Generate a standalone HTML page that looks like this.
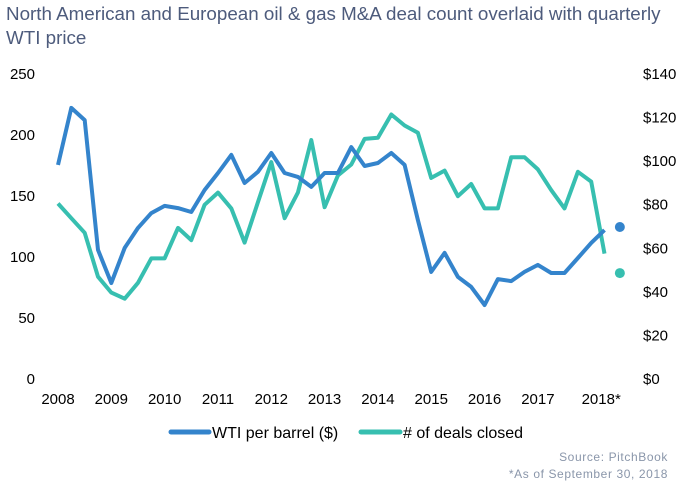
<!DOCTYPE html>
<html><head><meta charset="utf-8"><style>
body{margin:0;background:#fff;width:689px;height:483px;overflow:hidden;font-family:"Liberation Sans",sans-serif}
svg{display:block}
</style></head><body>
<svg id="c" width="689" height="483">
<text x="6" y="20" font-size="18.8" fill="#4d5b7c">North American and European oil &amp; gas M&amp;A deal count overlaid with quarterly</text>
<text x="6" y="44" font-size="18.8" fill="#4d5b7c">WTI price</text>
<g id="axes"></g><g id="series"></g>
<g>
<line x1="171" y1="432" x2="209" y2="432" stroke="#3484cc" stroke-width="5" stroke-linecap="round"/>
<text x="212" y="438" font-size="16" fill="#000">WTI per barrel ($)</text>
<line x1="361" y1="432" x2="400" y2="432" stroke="#37bfb0" stroke-width="5" stroke-linecap="round"/>
<text x="403" y="438" font-size="16" fill="#000"># of deals closed</text>
</g>
<text x="668" y="461" font-size="12" letter-spacing="0.6" fill="#8a96aa" text-anchor="end">Source: PitchBook</text>
<text x="668" y="478" font-size="12" letter-spacing="0.6" fill="#8a96aa" text-anchor="end">*As of September 30, 2018</text>
</svg>
<script>
const years=["2008","2009","2010","2011","2012","2013","2014","2015","2016","2017","2018*"];
const leftTicks=[0,50,100,150,200,250];
const rightTicks=[0,20,40,60,80,100,120,140];
const wti=[97.8,124,118.4,58.8,43.6,59.7,68.9,75.7,79,78,76.2,86.3,94.1,102.4,89.5,94.6,103.3,94.1,92.3,87.7,94.1,94.1,106,97.3,98.7,103.3,97.8,72.5,48.7,57.4,46.4,41.8,33.5,45.4,44.5,48.7,51.9,48.2,48.2,55.1,62,67.9];
const deals=[143,131,119,83,70,65,78,98,98,123,113,142,152,139,111,144,177,131,152,195,140,166,175,196,197,216,207,201,164,170,149,159,139,139,181,181,171,154,139,169,161,102];
const wtiLatest=69.3, dealsLatest=86;
const NS="http://www.w3.org/2000/svg";
const x0=58,dx=13.33,y0=378,yTop=73;
const xs=i=>x0+i*dx;
const yl=v=>y0-(v/250)*(y0-yTop);
const yr=v=>y0-(v/140)*(y0-yTop);
function mk(t,a,p){const e=document.createElementNS(NS,t);for(const k in a)e.setAttribute(k,a[k]);p.appendChild(e);return e;}
const ax=document.getElementById('axes'),se=document.getElementById('series');
leftTicks.forEach(v=>{const t=mk('text',{x:35,y:yl(v)+6,'font-size':15,'text-anchor':'end',fill:'#000'},ax);t.textContent=v;

});
rightTicks.forEach(v=>{const t=mk('text',{x:643,y:yr(v)+6,'font-size':15,fill:'#000'},ax);t.textContent='$'+v;

});
years.forEach((y,i)=>{const t=mk('text',{x:xs(i*4)+(i==10?10:0),y:404,'font-size':15,'text-anchor':'middle',fill:'#000'},ax);t.textContent=y;

});
const pd=deals.map((v,i)=>(i?'L':'M')+xs(i).toFixed(1)+','+yl(v).toFixed(1)).join('');
const l2=mk('path',{d:pd,fill:'none',stroke:'#37bfb0','stroke-width':4,'stroke-linejoin':'round'},se);


const pw=wti.map((v,i)=>(i?'L':'M')+xs(i).toFixed(1)+','+yr(v).toFixed(1)).join('');
const l1=mk('path',{d:pw,fill:'none',stroke:'#3484cc','stroke-width':4,'stroke-linejoin':'round'},se);


const d1=mk('circle',{cx:xs(wti.length)+2,cy:yr(wtiLatest),r:5,fill:'#3484cc'},se);


const d2=mk('circle',{cx:xs(deals.length)+2,cy:yl(dealsLatest),r:5,fill:'#37bfb0'},se);


</script>
</body></html>
